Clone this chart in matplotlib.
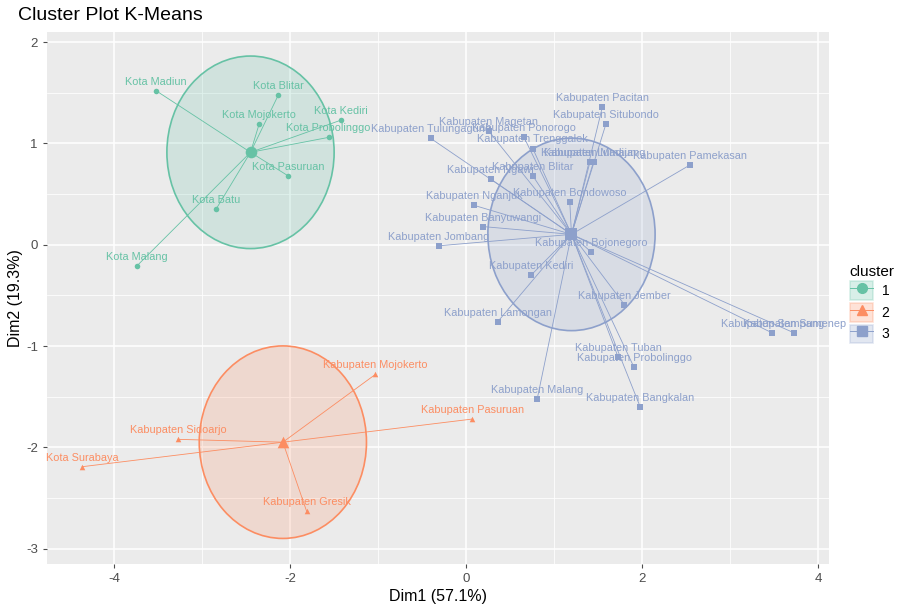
import numpy as np
import matplotlib
matplotlib.use("Agg")
import matplotlib.pyplot as plt
from matplotlib.patches import Ellipse, Patch
from matplotlib.lines import Line2D

plt.rcParams["font.family"] = ["Liberation Sans", "DejaVu Sans"]
plt.rcParams["axes.unicode_minus"] = False

# cluster 1 - kota
c1_names = ["Kota Madiun", "Kota Blitar", "Kota Mojokerto", "Kota Kediri",
            "Kota Probolinggo", "Kota Pasuruan", "Kota Batu", "Kota Malang"]
c1_x = [-3.52, -2.13, -2.35, -1.42, -1.56, -2.02, -2.84, -3.74]
c1_y = [1.52, 1.48, 1.19, 1.23, 1.06, 0.68, 0.35, -0.21]

# cluster 2
c2_names = ["Kabupaten Mojokerto", "Kabupaten Pasuruan", "Kabupaten Sidoarjo",
            "Kota Surabaya", "Kabupaten Gresik"]
c2_x = [-1.03, 0.07, -3.27, -4.36, -1.81]
c2_y = [-1.28, -1.72, -1.92, -2.19, -2.63]

# cluster 3
c3_names = ["Kabupaten Pacitan", "Kabupaten Situbondo", "Kabupaten Tulungagung",
            "Kabupaten Magetan", "Kabupaten Ponorogo", "Kabupaten Trenggalek",
            "Kabupaten Madiun", "Kabupaten Lumajang", "Kabupaten Pamekasan",
            "Kabupaten Ngawi", "Kabupaten Blitar", "Kabupaten Nganjuk",
            "Kabupaten Bondowoso", "Kabupaten Banyuwangi", "Kabupaten Jombang",
            "Kabupaten Bojonegoro", "Kabupaten Kediri", "Kabupaten Jember",
            "Kabupaten Lamongan", "Kabupaten Tuban", "Kabupaten Probolinggo",
            "Kabupaten Malang", "Kabupaten Bangkalan", "Kabupaten Sampang",
            "Kabupaten Sumenep"]
c3_x = [1.55, 1.59, -0.40, 0.26, 0.66, 0.76, 1.41, 1.45, 2.55, 0.28, 0.76, 0.09,
        1.18, 0.19, -0.31, 1.42, 0.74, 1.80, 0.36, 1.73, 1.91, 0.81, 1.98, 3.48, 3.73]
c3_y = [1.36, 1.19, 1.05, 1.12, 1.06, 0.95, 0.82, 0.82, 0.79, 0.65, 0.68, 0.39,
        0.42, 0.18, -0.01, -0.07, -0.30, -0.59, -0.76, -1.11, -1.21, -1.52, -1.60,
        -0.87, -0.87]

clusters = [
    ("1", c1_names, c1_x, c1_y, "#66C2A5", "o"),
    ("2", c2_names, c2_x, c2_y, "#FC8D62", "^"),
    ("3", c3_names, c3_x, c3_y, "#8DA0CB", "s"),
]

fig = plt.figure(figsize=(9.12, 6.08), dpi=100)
ax = fig.add_axes([0.0515, 0.0724, 0.8575, 0.875])
ax.set_facecolor("#EBEBEB")

ax.set_xlim(-4.76, 4.125)
ax.set_ylim(-3.15, 2.10)
ax.set_xticks([-4, -2, 0, 2, 4])
ax.set_xticks([-3, -1, 1, 3], minor=True)
ax.set_yticks([-3, -2, -1, 0, 1, 2])
ax.set_yticks(np.arange(-2.5, 2.0, 1.0), minor=True)
ax.grid(which="major", color="white", linewidth=1.1)
ax.grid(which="minor", color="white", linewidth=0.55)
ax.set_axisbelow(True)
for s in ax.spines.values():
    s.set_visible(False)
ax.tick_params(which="major", colors="#4D4D4D", labelsize=9.5, length=3, width=0.8)
ax.tick_params(which="minor", length=0)

handles = []
for lab, names, xs, ys, col, mk in clusters:
    xs = np.array(xs)
    ys = np.array(ys)
    cx, cy = xs.mean(), ys.mean()
    # euclid ellipse, radius = 0.95
    ax.add_patch(Ellipse((cx, cy), 1.9, 1.9, facecolor=col, alpha=0.2,
                         edgecolor="none", zorder=1))
    ax.add_patch(Ellipse((cx, cy), 1.9, 1.9, facecolor="none",
                         edgecolor=col, linewidth=1.2, zorder=2))
    for x, y in zip(xs, ys):
        ax.plot([cx, x], [cy, y], color=col, linewidth=0.6, zorder=3)
    ax.scatter(xs, ys, marker=mk, s=16, color=col, zorder=4, linewidths=0)
    ax.scatter([cx], [cy], marker=mk, s=70, color=col, zorder=4, linewidths=0)
    for n, x, y in zip(names, xs, ys):
        ax.annotate(n, (x, y), xytext=(0, 6.5), textcoords="offset points",
                    ha="center", va="center", fontsize=7.8, color=col, zorder=5)
    handles.append((Patch(facecolor=col, alpha=0.25, edgecolor=col, linewidth=1.2),
                    Line2D([], [], color=col, marker=mk, markersize=7, linewidth=0.7)))

ax.set_xlabel("Dim1 (57.1%)", fontsize=11.5, labelpad=3)
ax.set_ylabel("Dim2 (19.3%)", fontsize=11.5, labelpad=2)
fig.text(0.02, 0.975, "Cluster Plot K-Means", fontsize=14, va="center", ha="left")

leg = fig.legend(handles, ["1", "2", "3"], title="cluster",
                 loc="center left", bbox_to_anchor=(0.918, 0.5),
                 frameon=False, fontsize=10, title_fontsize=11,
                 handlelength=1.7, handleheight=1.7, labelspacing=0.2,
                 handletextpad=0.6)
leg._legend_box.align = "left"

fig.savefig("out.png", dpi=100)
